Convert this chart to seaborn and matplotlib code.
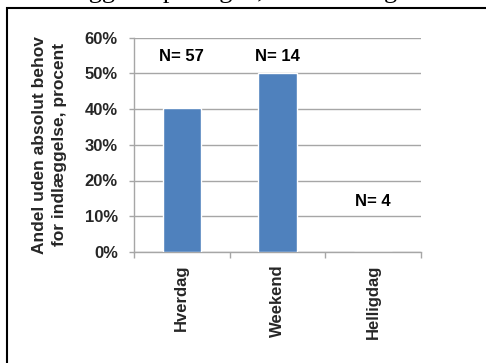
import matplotlib
matplotlib.use("Agg")
import matplotlib.pyplot as plt
from matplotlib.patches import Rectangle
from matplotlib.ticker import FixedLocator, FuncFormatter
import seaborn as sns
import pandas as pd

# Data
categories = ["Hverdag", "Weekend", "Helligdag"]
andel = [40.35, 50.0, 0.0]          # procent
n_labels = ["N= 57", "N= 14", "N= 4"]
n_label_y = [54.7, 54.7, 14.0]       # placement of the N labels (procent)
y_ticks = [0, 10, 20, 30, 40, 50, 60]
ylabel = "Andel uden absolut behov\nfor indlæggelse, procent"
caption = "indlæggelse på dagen, weekend og"

df = pd.DataFrame({"dag": categories, "andel": andel})

sns.set_theme(style="white")
plt.rcParams["font.family"] = ["Liberation Sans", "DejaVu Sans"]

GRID = "#A6A6A6"

fig = plt.figure(figsize=(4.86, 3.63), dpi=100)
fig.patch.set_facecolor("white")
ax = fig.add_axes([134 / 486, 1 - 252 / 363, (421 - 134) / 486, (252 - 37.5) / 363])

sns.barplot(data=df, x="dag", y="andel", color="#4F81BD", width=0.4,
            saturation=1, ax=ax, zorder=3)

ax.set_ylim(0, 60)
ax.set_xlim(-0.5, 2.5)
ax.yaxis.set_major_locator(FixedLocator(y_ticks))
ax.yaxis.set_major_formatter(FuncFormatter(lambda v, p: f"{v:.0f}%"))
ax.grid(axis="y", color=GRID, linewidth=1.0, zorder=0)
ax.set_axisbelow(True)

for s in ["top", "right"]:
    ax.spines[s].set_visible(False)
for s in ["left", "bottom"]:
    ax.spines[s].set_color(GRID)
    ax.spines[s].set_linewidth(1.0)

# category boundary ticks on the x axis
ax.set_xticks([0, 1, 2])
ax.set_xticklabels(categories, rotation=90, fontsize=12, fontweight="bold")
ax.xaxis.set_minor_locator(FixedLocator([-0.5, 0.5, 1.5, 2.5]))
ax.tick_params(axis="x", which="major", length=0, pad=9)
ax.tick_params(axis="x", which="minor", length=4.5, width=1.0, color=GRID,
               direction="out", bottom=True)
ax.tick_params(axis="y", length=3.6, width=1.0, color=GRID, direction="out",
               left=True, pad=8, labelsize=12)
for t in ax.get_yticklabels():
    t.set_fontweight("bold")

ax.set_xlabel("")
ax.set_ylabel(ylabel, fontsize=12.5, fontweight="bold", labelpad=13,
              linespacing=1.4)

for i, (lab, yy) in enumerate(zip(n_labels, n_label_y)):
    ax.text(i, yy, lab, ha="center", va="center", fontsize=12,
            fontweight="bold", color="black")

# frame around the chart
fig.add_artist(Rectangle((7 / 486, -0.1), 1.2, 1 - 8 / 363 + 0.1,
                         transform=fig.transFigure, fill=False,
                         edgecolor="black", linewidth=1.5))

# caption text running above the frame
fig.text(30 / 486, 1 + 1.5 / 363, caption, family="Liberation Serif",
         fontsize=19, va="baseline", ha="left", color="black")

fig.savefig("out.png", dpi=100, facecolor="white")
